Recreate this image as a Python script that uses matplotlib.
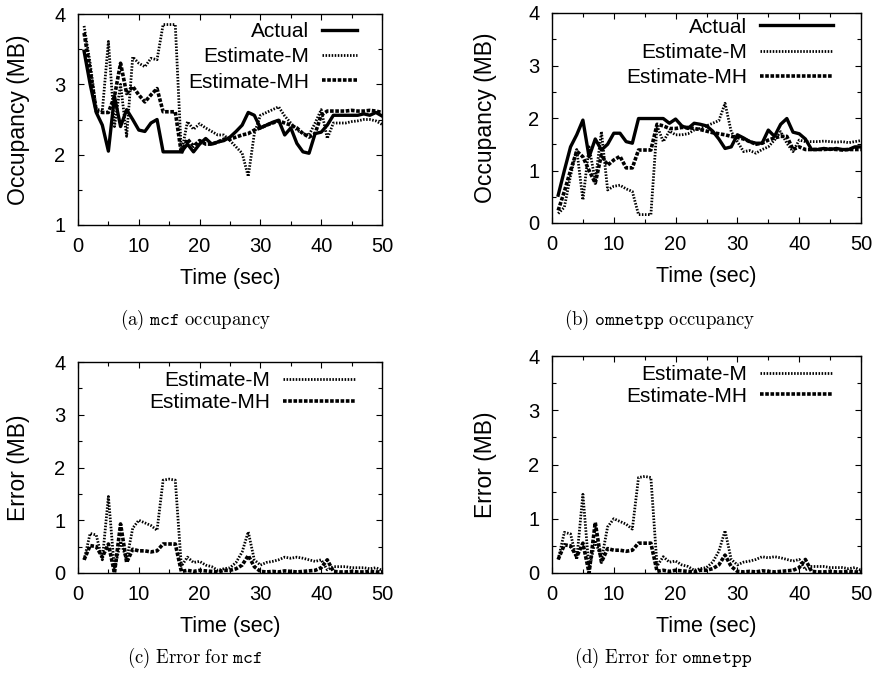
import matplotlib
matplotlib.use("Agg")
import matplotlib.pyplot as plt
from matplotlib.ticker import MultipleLocator
import numpy as np

plt.rcParams['font.family'] = ['Liberation Sans', 'DejaVu Sans']
plt.rcParams['mathtext.fontset'] = 'cm'

time_sec = list(range(1, 51))

# (a) mcf occupancy (MB)
mcf_actual = [3.47, 3.0, 2.6, 2.42, 2.05, 2.83, 2.40, 2.64, 2.5, 2.35,
              2.33, 2.45, 2.5, 2.04, 2.04, 2.04, 2.04, 2.15, 2.04, 2.15,
              2.23, 2.15, 2.18, 2.2, 2.25, 2.33, 2.42, 2.6, 2.56, 2.38,
              2.42, 2.46, 2.49, 2.28, 2.38, 2.16, 2.04, 2.02, 2.3, 2.32,
              2.42, 2.56, 2.56, 2.56, 2.56, 2.56, 2.58, 2.56, 2.6, 2.55]
mcf_est_m = [3.83, 3.3, 2.65, 2.62, 3.61, 2.4, 3.0, 2.26, 3.39, 3.3,
             3.25, 3.37, 3.35, 3.85, 3.85, 3.85, 2.02, 2.47, 2.36, 2.44,
             2.38, 2.33, 2.28, 2.28, 2.2, 2.11, 2.02, 1.69, 2.3, 2.56,
             2.6, 2.64, 2.68, 2.55, 2.45, 2.35, 2.3, 2.28, 2.45, 2.64,
             2.23, 2.45, 2.45, 2.45, 2.47, 2.48, 2.5, 2.5, 2.48, 2.43]
mcf_est_mh = [3.73, 3.2, 2.62, 2.6, 2.6, 2.83, 3.30, 2.87, 2.97, 2.85,
              2.75, 2.85, 2.94, 2.61, 2.61, 2.61, 2.02, 2.22, 2.12, 2.2,
              2.15, 2.15, 2.18, 2.22, 2.22, 2.25, 2.28, 2.3, 2.35, 2.38,
              2.42, 2.45, 2.48, 2.45, 2.42, 2.38, 2.3, 2.25, 2.3, 2.56,
              2.62, 2.62, 2.62, 2.62, 2.63, 2.62, 2.62, 2.63, 2.62, 2.6]

# (b) omnetpp occupancy (MB)
omn_actual = [0.53, 1.0, 1.45, 1.68, 1.96, 1.26, 1.6, 1.39, 1.5, 1.71,
              1.71, 1.55, 1.52, 1.99, 1.99, 1.99, 1.99, 1.99, 1.9, 1.98,
              1.85, 1.8, 1.9, 1.88, 1.85, 1.75, 1.6, 1.42, 1.45, 1.68,
              1.62, 1.55, 1.52, 1.52, 1.77, 1.65, 1.88, 1.99, 1.73, 1.70,
              1.6, 1.4, 1.4, 1.42, 1.4, 1.42, 1.4, 1.4, 1.45, 1.45]
omn_est_m = [0.18, 0.3, 0.9, 1.4, 0.44, 1.45, 0.8, 1.74, 0.63, 0.7,
             0.72, 0.65, 0.6, 0.16, 0.16, 0.16, 1.85, 1.55, 1.75, 1.68,
             1.68, 1.7, 1.77, 1.8, 1.85, 1.9, 1.95, 2.28, 1.74, 1.55,
             1.36, 1.38, 1.33, 1.4, 1.45, 1.58, 1.74, 1.52, 1.36, 1.58,
             1.55, 1.55, 1.55, 1.56, 1.55, 1.54, 1.55, 1.53, 1.55, 1.57]
omn_est_mh = [0.24, 0.6, 1.0, 1.37, 1.26, 1.0, 0.76, 1.3, 1.1, 1.2,
              1.27, 1.05, 1.05, 1.39, 1.39, 1.39, 1.88, 1.85, 1.8, 1.8,
              1.82, 1.82, 1.8, 1.78, 1.75, 1.72, 1.7, 1.68, 1.65, 1.63,
              1.6, 1.55, 1.5, 1.52, 1.58, 1.62, 1.65, 1.65, 1.4, 1.45,
              1.4, 1.4, 1.4, 1.4, 1.41, 1.4, 1.39, 1.4, 1.4, 1.4]

# (c)/(d) error (MB) -- the two error panels show the same curves
err_est_m = [0.25, 0.75, 0.72, 0.25, 1.45, 0.06, 0.6, 0.25, 0.85, 1.0,
             0.95, 0.9, 0.81, 1.76, 1.78, 1.76, 0.13, 0.3, 0.2, 0.22,
             0.15, 0.12, 0.05, 0.08, 0.1, 0.2, 0.4, 0.78, 0.25, 0.15,
             0.2, 0.22, 0.25, 0.3, 0.28, 0.3, 0.28, 0.25, 0.22, 0.25,
             0.06, 0.12, 0.12, 0.12, 0.1, 0.1, 0.1, 0.08, 0.1, 0.05]
err_est_mh = [0.25, 0.52, 0.5, 0.3, 0.55, 0.0, 0.93, 0.2, 0.45, 0.42,
              0.42, 0.4, 0.42, 0.55, 0.55, 0.55, 0.03, 0.05, 0.03, 0.05,
              0.04, 0.03, 0.02, 0.05, 0.05, 0.08, 0.15, 0.33, 0.12, 0.03,
              0.02, 0.03, 0.02, 0.04, 0.03, 0.02, 0.03, 0.04, 0.05, 0.1,
              0.25, 0.03, 0.02, 0.02, 0.03, 0.02, 0.02, 0.03, 0.02, 0.02]

labels = ["Actual", "Estimate-M", "Estimate-MH"]
x_ticks = [0, 10, 20, 30, 40, 50]

STYLE_ACTUAL = dict(color='black', lw=2.4, ls='-')
STYLE_M = dict(color='black', lw=2.0, dashes=(0.55, 0.55))
STYLE_MH = dict(color='black', lw=2.6, dashes=(1.0, 0.45))

fig = plt.figure(figsize=(8.81, 6.86), dpi=100)
W, H = 881.0, 686.0


def make_ax(l, r, t, b):
    return fig.add_axes([l / W, 1 - b / H, (r - l) / W, (b - t) / H])


def style_ax(ax, ymin, ylabel, ylab_x):
    ax.set_xlim(0, 50)
    ax.set_ylim(ymin, 4)
    ax.set_xticks(x_ticks)
    ax.xaxis.set_minor_locator(MultipleLocator(5))
    ax.yaxis.set_major_locator(MultipleLocator(1))
    ax.yaxis.set_minor_locator(MultipleLocator(0.5))
    ax.tick_params(which='both', direction='in', top=True, right=True,
                   width=0.8, color='black')
    ax.tick_params(which='major', length=4)
    ax.tick_params(which='minor', length=3)
    ax.tick_params(axis='x', which='major', labelsize=14.5, pad=9)
    ax.tick_params(axis='y', which='major', labelsize=14.5, pad=9)
    for sp in ax.spines.values():
        sp.set_linewidth(1.0)
    ax.set_xlabel("Time (sec)", fontsize=15.5, labelpad=8)
    ax.set_ylabel(ylabel, fontsize=16.5)
    ax.yaxis.set_label_coords(ylab_x, 0.5)


def legend(ax, anchor, hl, spacing):
    ax.legend(loc='upper right', bbox_to_anchor=anchor, frameon=False,
              markerfirst=False, fontsize=15, handlelength=hl,
              handletextpad=0.6, labelspacing=spacing, borderaxespad=0,
              borderpad=0)


# (a)
ax_a = make_ax(78, 382, 14, 225)
ax_a.plot(time_sec, mcf_actual, label=labels[0], **STYLE_ACTUAL)
ax_a.plot(time_sec, mcf_est_m, label=labels[1], **STYLE_M)
ax_a.plot(time_sec, mcf_est_mh, label=labels[2], **STYLE_MH)
style_ax(ax_a, 1, "Occupancy (MB)", (30 - 78) / 304)
legend(ax_a, (0.918, 0.962), 1.7, 0.3)

# (b)
ax_b = make_ax(552, 861, 13, 223)
ax_b.plot(time_sec, omn_actual, label=labels[0], **STYLE_ACTUAL)
ax_b.plot(time_sec, omn_est_m, label=labels[1], **STYLE_M)
ax_b.plot(time_sec, omn_est_mh, label=labels[2], **STYLE_MH)
style_ax(ax_b, 0, "Occupancy (MB)", (497 - 552) / 309)
legend(ax_b, (0.909, 0.978), 3.5, 0.3)

# (c)
ax_c = make_ax(78, 382, 362, 573)
ax_c.plot(time_sec, err_est_m, label=labels[1], **STYLE_M)
ax_c.plot(time_sec, err_est_mh, label=labels[2], **STYLE_MH)
style_ax(ax_c, 0, "Error (MB)", (30 - 78) / 304)
legend(ax_c, (0.914, 0.955), 3.5, 0.12)

# (d)
ax_d = make_ax(552, 861, 356, 573)
ax_d.plot(time_sec, err_est_m, label=labels[1], **STYLE_M)
ax_d.plot(time_sec, err_est_mh, label=labels[2], **STYLE_MH)
style_ax(ax_d, 0, "Error (MB)", (497 - 552) / 309)
legend(ax_d, (0.909, 0.958), 3.5, 0.12)

# captions
cap_kw = dict(ha='center', va='center', fontsize=13.5)
fig.text(195 / W, 1 - 320 / H, r'$\mathrm{(a)\ }\mathtt{mcf}\mathrm{\ occupancy}$', **cap_kw)
fig.text(660 / W, 1 - 320 / H, r'$\mathrm{(b)\ }\mathtt{omnetpp}\mathrm{\ occupancy}$', **cap_kw)
fig.text(195 / W, 1 - 658 / H, r'$\mathrm{(c)\ Error\ for\ }\mathtt{mcf}$', **cap_kw)
fig.text(663 / W, 1 - 658 / H, r'$\mathrm{(d)\ Error\ for\ }\mathtt{omnetpp}$', **cap_kw)

fig.savefig("out.png", dpi=100)
